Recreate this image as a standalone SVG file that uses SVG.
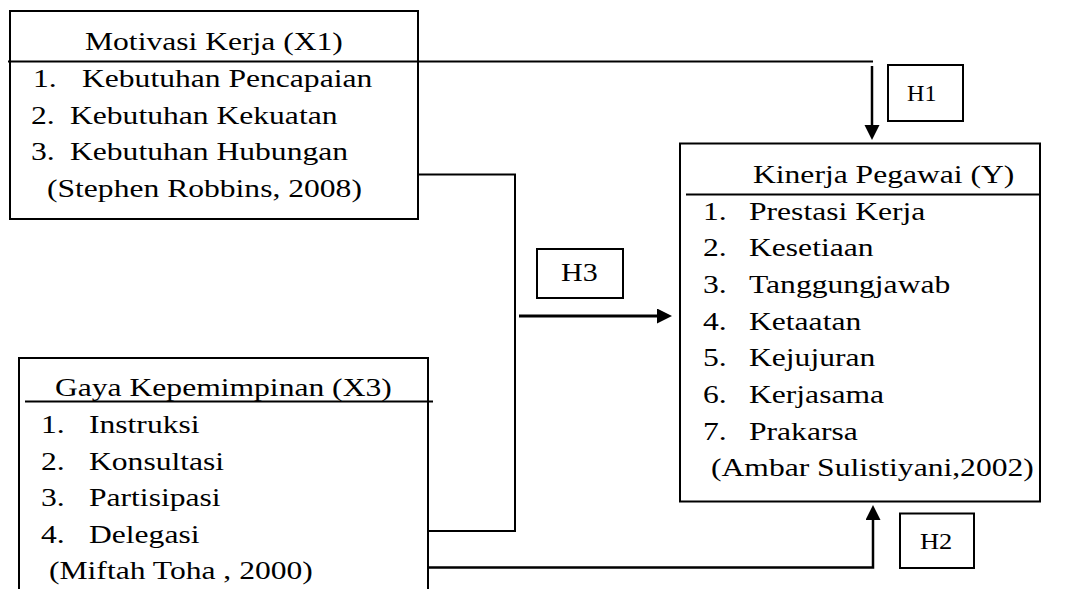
<svg xmlns="http://www.w3.org/2000/svg" width="1078" height="589" viewBox="0 0 1078 589">
<style>
  .box { fill: none; stroke: #000; stroke-width: 2; }
  .ln { fill: none; stroke: #000; stroke-width: 2; }
  .arr { fill: none; stroke: #000; stroke-width: 2.5; }
  text { font-family: "Liberation Serif", "Times New Roman", serif; fill: #000; }
  .t { font-size: 26px; }
  .h { font-size: 23px; }
</style>
<defs>
  <marker id="ah" markerUnits="userSpaceOnUse" markerWidth="16" markerHeight="16" refX="0" refY="7.5" orient="auto">
    <path d="M0,0 L15,7.5 L0,15 Z" fill="#000"/>
  </marker>
</defs>
<rect width="1078" height="589" fill="#fff"/>

<g id="connectors">
  <path class="ln" d="M418,61.5 H873"/>
  <path class="arr" d="M872,66 V125" marker-end="url(#ah)"/>
  <path class="ln" d="M418,174.5 H515 V531 H428"/>
  <path class="arr" style="stroke-width:3" d="M519,316 H657" marker-end="url(#ah)"/>
  <path class="arr" d="M428,567.5 H873 V520" marker-end="url(#ah)"/>
</g>

<g id="node-x1">
  <rect class="box" x="10" y="11" width="408" height="208"/>
  <path class="ln" d="M8,61.5 H418"/>
  <text class="t" transform="matrix(1.215 0 0 1 85 50)">Motivasi Kerja (X1)</text>
  <text class="t" transform="matrix(1.215 0 0 1 33 87)">1.</text>
  <text class="t" transform="matrix(1.215 0 0 1 82 87)">Kebutuhan Pencapaian</text>
  <text class="t" transform="matrix(1.215 0 0 1 31 123.5)">2.</text>
  <text class="t" transform="matrix(1.215 0 0 1 70 123.5)">Kebutuhan Kekuatan</text>
  <text class="t" transform="matrix(1.215 0 0 1 31 160)">3.</text>
  <text class="t" transform="matrix(1.215 0 0 1 70 160)">Kebutuhan Hubungan</text>
  <text class="t" transform="matrix(1.215 0 0 1 47 196.5)">(Stephen Robbins, 2008)</text>
</g>

<g id="node-y">
  <rect class="box" x="680" y="143.5" width="360" height="358"/>
  <path class="ln" d="M686,194.5 H1040"/>
  <text class="t" transform="matrix(1.215 0 0 1 753 183)">Kinerja Pegawai (Y)</text>
  <text class="t" transform="matrix(1.215 0 0 1 703 219.5)">1.</text>
  <text class="t" transform="matrix(1.215 0 0 1 749 219.5)">Prestasi Kerja</text>
  <text class="t" transform="matrix(1.215 0 0 1 703 256)">2.</text>
  <text class="t" transform="matrix(1.215 0 0 1 749 256)">Kesetiaan</text>
  <text class="t" transform="matrix(1.215 0 0 1 703 293)">3.</text>
  <text class="t" transform="matrix(1.215 0 0 1 749 293)">Tanggungjawab</text>
  <text class="t" transform="matrix(1.215 0 0 1 703 329.5)">4.</text>
  <text class="t" transform="matrix(1.215 0 0 1 749 329.5)">Ketaatan</text>
  <text class="t" transform="matrix(1.215 0 0 1 703 366)">5.</text>
  <text class="t" transform="matrix(1.215 0 0 1 749 366)">Kejujuran</text>
  <text class="t" transform="matrix(1.215 0 0 1 703 403)">6.</text>
  <text class="t" transform="matrix(1.215 0 0 1 749 403)">Kerjasama</text>
  <text class="t" transform="matrix(1.215 0 0 1 703 439.5)">7.</text>
  <text class="t" transform="matrix(1.215 0 0 1 749 439.5)">Prakarsa</text>
  <text class="t" transform="matrix(1.215 0 0 1 711 476)">(Ambar Sulistiyani,2002)</text>
</g>

<g id="node-x3">
  <path class="box" d="M19,589 V358 H428 V589"/>
  <path class="ln" d="M25,401.5 H433"/>
  <text class="t" transform="matrix(1.215 0 0 1 55 396)">Gaya Kepemimpinan (X3)</text>
  <text class="t" transform="matrix(1.215 0 0 1 41 433)">1.</text>
  <text class="t" transform="matrix(1.215 0 0 1 89 433)">Instruksi</text>
  <text class="t" transform="matrix(1.215 0 0 1 41 469.5)">2.</text>
  <text class="t" transform="matrix(1.215 0 0 1 89 469.5)">Konsultasi</text>
  <text class="t" transform="matrix(1.215 0 0 1 41 506)">3.</text>
  <text class="t" transform="matrix(1.215 0 0 1 89 506)">Partisipasi</text>
  <text class="t" transform="matrix(1.215 0 0 1 41 542.5)">4.</text>
  <text class="t" transform="matrix(1.215 0 0 1 89 542.5)">Delegasi</text>
  <text class="t" transform="matrix(1.215 0 0 1 49 579)">(Miftah Toha , 2000)</text>
</g>

<g id="label-h1">
  <rect class="box" x="888" y="65" width="75" height="56"/>
  <text class="h" transform="matrix(1.05 0 0 1 907 101)">H1</text>
</g>

<g id="label-h2">
  <rect class="box" x="900" y="513.5" width="74" height="54.5"/>
  <text class="h" transform="matrix(1.15 0 0 1 920 549)">H2</text>
</g>

<g id="label-h3">
  <rect class="box" x="537" y="249" width="86" height="49"/>
  <text class="t" style="font-size:25px" transform="matrix(1.2 0 0 1 561 281)">H3</text>
</g>
</svg>
